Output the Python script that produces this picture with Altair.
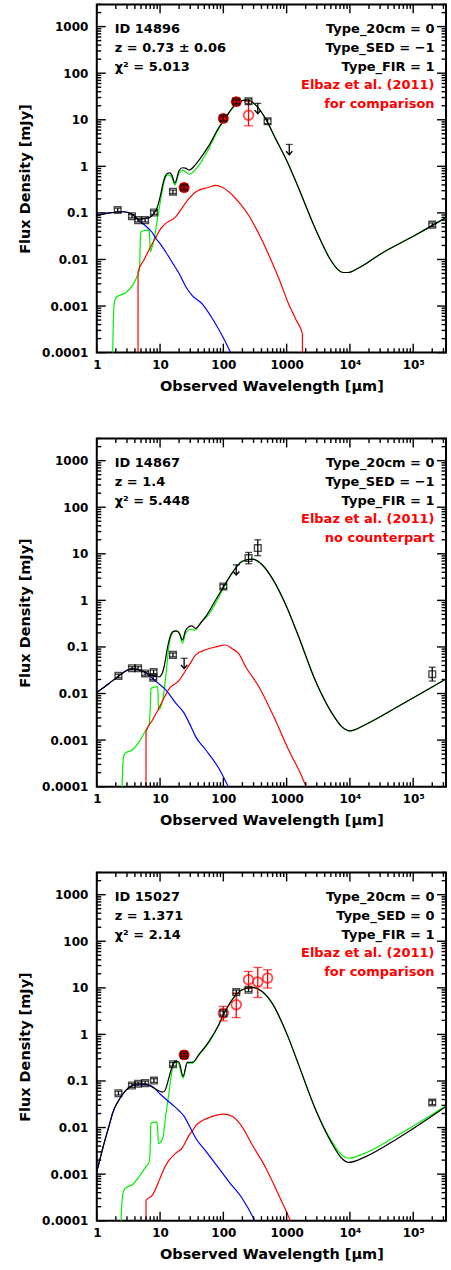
import altair as alt
import pandas as pd

# ---------------- axes ----------------
X_MAJOR = [1, 10, 100, 1000, 10000, 100000]
X_LABELS = ["1", "10", "100", "1000", "10⁴", "10⁵"]
Y_MAJOR = [0.0001, 0.001, 0.01, 0.1, 1, 10, 100, 1000]
Y_LABELS = ["0.0001", "0.001", "0.01", "0.1", "1", "10", "100", "1000"]
X_DOMAIN = [1, 3.3e5]
Y_DOMAIN = [1e-4, 3000]
X_MINOR = [m * 10 ** d for d in range(0, 6) for m in range(2, 10) if m * 10 ** d <= 3.3e5]
Y_MINOR = [m * 10.0 ** d for d in range(-4, 4) for m in range(2, 10) if m * 10.0 ** d <= 3000]

# ---------------- panel 1 : ID 14896 ----------------
p1_blue_wl = [1.0, 1.6, 2.6, 3.5, 4.7, 5.9, 7.4, 8.6, 10, 12.3, 15.7, 20, 25.5, 32, 46.6, 67, 96, 130, 160]
p1_blue_f = [0.089, 0.100, 0.106, 0.0955, 0.0676, 0.0525, 0.0389, 0.0282, 0.0219, 0.0145, 0.0085, 0.0050,
             0.0026, 0.0017, 0.0011, 0.00054, 0.00023, 0.0001, 0.00005]
p1_green_wl = [1.72, 1.74, 1.90, 2.07, 2.90, 3.69, 4.37, 4.73, 4.90, 5.01, 6.61, 6.84, 7.0, 7.41, 8.09, 9.12,
               10.3, 11.6, 13.1, 13.9, 15.5, 17.1, 20.0, 22.6, 28.8, 41.3, 59.3, 85.3, 103.5, 138, 176, 238,
               322, 462, 665, 1023, 1549, 2818, 4900, 6300, 7900, 9300, 13500, 31600, 107000, 330000]
p1_green_f = [1e-7, 1e-5, 1.23e-3, 1.58e-3, 1.95e-3, 2.82e-3, 4.47e-3, 6.3e-3, 0.0316, 0.0398, 0.0427, 0.0316,
              0.0145, 0.0178, 0.0282, 0.0759, 0.204, 0.468, 0.646, 0.649, 0.562, 0.398, 0.708, 0.832, 0.676,
              1.06, 2.43, 6.53, 9.77, 17.6, 24.5, 26.3, 20.9, 10.7, 3.98, 1.26, 0.339, 0.0468, 0.0100, 0.0063,
              0.00525, 0.00525, 0.00646, 0.0135, 0.0331, 0.0794]
p1_black_wl = [1.0, 1.58, 2.57, 3.55, 4.70, 5.62, 6.76, 7.94, 8.91, 10, 11.0, 12.0, 13.2, 14.1, 15.5, 17.1,
               20.0, 22.6, 25.1, 28.8, 35.5, 41.3, 59.3, 85.3, 103.5, 138, 176, 238, 322, 462, 665, 1023,
               1549, 2818, 4900, 6300, 7900, 9300, 13500, 31600, 107000, 330000]
p1_black_f = [0.089, 0.100, 0.106, 0.0955, 0.0708, 0.0759, 0.0794, 0.0955, 0.126, 0.219, 0.398, 0.603, 0.708,
              0.724, 0.631, 0.437, 0.813, 0.933, 0.912, 0.832, 1.05, 1.36, 2.82, 6.92, 10.0, 17.8, 24.6, 26.3,
              20.9, 10.7, 3.98, 1.26, 0.339, 0.0468, 0.0100, 0.0063, 0.00525, 0.00525, 0.00646, 0.0135,
              0.0331, 0.0794]
p1_red_wl = [4.48, 4.49, 5.62, 6.76, 8.61, 10, 12.4, 14.8, 17.8, 22.6, 28.8, 35.5, 41.4, 56.2, 75.7, 95.5,
             123, 178, 251, 363, 525, 759, 1072, 1413, 1778, 1791]
p1_red_f = [1e-8, 0.0054, 0.0100, 0.0166, 0.0302, 0.0437, 0.0603, 0.0692, 0.0832, 0.132, 0.204, 0.275, 0.309,
            0.347, 0.389, 0.355, 0.282, 0.166, 0.0891, 0.0355, 0.0123, 0.0038, 0.00112, 0.0005, 0.00025, 1e-8]
p1_sq_wl = [2.14, 3.6, 4.5, 5.8, 8.0, 16, 24, 100, 160, 250, 500, 2.0e5]
p1_sq_f = [0.115, 0.085, 0.070, 0.070, 0.102, 0.285, 0.35, 10.7, 24.5, 25, 9.3, 0.056]
p1_sq_lo = [0.105, 0.078, 0.064, 0.064, 0.093, 0.26, 0.32, 9.7, 22.3, 22.0, 8.2, 0.051]
p1_sq_hi = [0.126, 0.092, 0.076, 0.076, 0.111, 0.31, 0.38, 11.7, 26.7, 28.0, 10.4, 0.061]
p1_ul_wl = [350, 1100]
p1_ul_f = [22.5, 2.95]
p1_rc_wl = [24, 100, 160, 250]
p1_rc_f = [0.35, 10.7, 24.5, 12.5]
p1_rc_lo = [0.33, 10.1, 23.1, 7.4]
p1_rc_hi = [0.37, 11.3, 26.0, 24.5]
p1_rc_filled = [True, True, True, False]
p1_left = ["ID 14896", "z = 0.73 ± 0.06", "χ² = 5.013"]
p1_right = ["Type_20cm = 0", "Type_SED = −1", "Type_FIR = 1"]
p1_red_text = ["Elbaz et al. (2011)", "for comparison"]

# ---------------- panel 2 : ID 14867 ----------------
p2_blue_wl = [1.0, 1.58, 2.14, 2.82, 3.69, 4.70, 5.98, 8.59, 12.3, 17.7, 24.0, 29.5, 36.6, 52.5, 85.1, 120, 158]
p2_blue_f = [0.0105, 0.0166, 0.0229, 0.0302, 0.0339, 0.0316, 0.0275, 0.0182, 0.0120, 0.0062, 0.0038, 0.0022,
             0.00117, 0.00062, 0.000245, 0.0001, 0.00005]
p2_green_wl = [2.49, 2.51, 2.66, 2.82, 3.69, 4.70, 5.98, 6.76, 7.0, 7.16, 9.12, 9.29, 9.46, 11.0, 12.3, 13.9,
               15.7, 17.7, 20.0, 22.6, 25.5, 30.5, 35.5, 41.4, 59.4, 75.5, 103.5, 138, 199, 285, 410, 589,
               1023, 1549, 2818, 5188, 7413, 10000, 17380, 57540, 330000]
p2_green_f = [1e-7, 1e-4, 4.5e-4, 5.2e-4, 6.2e-4, 9.3e-4, 1.66e-3, 2.29e-3, 5.0e-3, 0.0129, 0.0141, 0.0100,
              0.00447, 0.00724, 0.0229, 0.112, 0.20, 0.224, 0.20, 0.120, 0.20, 0.24, 0.229, 0.302, 0.513, 0.871,
              2.0, 3.85, 6.84, 7.69, 5.82, 3.01, 0.681, 0.166, 0.0195, 0.0038, 0.00195, 0.00158, 0.00214,
              0.00525, 0.0204]
p2_black_wl = [1.0, 1.58, 2.14, 2.82, 3.69, 4.70, 5.98, 7.08, 8.59, 9.68, 10.7, 11.6, 13.2, 14.8, 16.6, 18.6,
               20.4, 22.6, 25.1, 28.2, 31.6, 36.6, 44.7, 52.5, 75.5, 103.5, 138, 199, 285, 410, 589, 1023,
               1549, 2818, 5188, 7413, 10000, 17380, 57540, 330000]
p2_black_f = [0.0105, 0.0166, 0.0229, 0.0302, 0.0347, 0.0324, 0.0282, 0.0251, 0.0229, 0.0229, 0.0263, 0.038,
              0.102, 0.182, 0.219, 0.219, 0.19, 0.141, 0.219, 0.269, 0.282, 0.251, 0.339, 0.447, 1.02, 2.09,
              3.9, 6.9, 7.7, 5.82, 3.01, 0.681, 0.166, 0.0195, 0.0038, 0.00195, 0.00158, 0.00214, 0.00525,
              0.0204]
p2_red_wl = [5.98, 6.0, 7.6, 9.7, 13.9, 20.0, 25.5, 28.8, 36.6, 52.5, 75.5, 108.6, 138, 176, 224, 363, 589,
             1072, 2018, 2512]
p2_red_f = [1e-8, 0.00151, 0.00269, 0.0050, 0.0126, 0.0191, 0.0316, 0.0407, 0.0676, 0.0871, 0.100, 0.110,
            0.0912, 0.0708, 0.038, 0.0141, 0.0038, 0.00062, 0.0001, 0.00004]
p2_sq_wl = [2.2, 3.6, 4.5, 5.8, 7.8, 7.9, 16, 100, 250, 350, 2.0e5]
p2_sq_f = [0.0239, 0.0349, 0.0349, 0.027, 0.0219, 0.029, 0.0676, 1.99, 8.1, 13.3, 0.026]
p2_sq_lo = [0.0218, 0.0319, 0.0319, 0.0247, 0.020, 0.0265, 0.0615, 1.80, 6.1, 9.1, 0.0185]
p2_sq_hi = [0.026, 0.038, 0.038, 0.0295, 0.024, 0.0318, 0.074, 2.2, 10.7, 20.0, 0.0367]
p2_ul_wl = [24, 160]
p2_ul_f = [0.057, 5.8]
p2_rc_wl = []
p2_rc_f = []
p2_rc_lo = []
p2_rc_hi = []
p2_rc_filled = []
p2_left = ["ID 14867", "z = 1.4", "χ² = 5.448"]
p2_right = ["Type_20cm = 0", "Type_SED = −1", "Type_FIR = 1"]
p2_red_text = ["Elbaz et al. (2011)", "no counterpart"]

# ---------------- panel 3 : ID 15027 ----------------
p3_blue_wl = [1.0, 1.24, 1.58, 1.79, 2.14, 2.88, 3.69, 4.70, 5.98, 7.59, 10, 15.7, 20, 24.0, 30.5, 36.7, 52.5,
              85.1, 122, 199, 314, 398]
p3_blue_f = [0.00112, 0.00355, 0.0115, 0.0209, 0.0355, 0.063, 0.0794, 0.0851, 0.0832, 0.0759, 0.0525, 0.0309,
             0.0229, 0.0174, 0.00955, 0.0059, 0.00316, 0.00133, 0.00069, 0.0003, 0.0001, 0.00005]
p3_green_wl = [2.40, 2.42, 2.6, 2.82, 3.69, 4.70, 5.98, 6.76, 7.0, 7.16, 8.79, 9.12, 9.46, 11.0, 12.3, 13.9,
               14.8, 15.7, 17.2, 19.1, 20.0, 23.1, 26.9, 32.4, 41.3, 59.3, 85.1, 103.5, 138, 199, 285, 410,
               589, 1023, 1549, 2818, 5188, 7413, 9550, 17380, 57540, 330000]
p3_green_f = [1e-7, 1e-4, 4.0e-4, 4.95e-4, 6.0e-4, 8.9e-4, 1.45e-3, 1.86e-3, 3.98e-3, 0.0126, 0.0132, 0.0100,
              0.00457, 0.00589, 0.0186, 0.0589, 0.115, 0.186, 0.251, 0.251, 0.219, 0.115, 0.240, 0.240, 0.363,
              0.676, 1.61, 2.86, 5.53, 9.08, 10.2, 8.32, 4.68, 0.977, 0.222, 0.026, 0.0050, 0.00257, 0.00219,
              0.00282, 0.0069, 0.0295]
p3_black_wl = [1.0, 1.24, 1.58, 1.79, 2.14, 2.88, 3.69, 4.70, 5.98, 7.24, 9.12, 11.0, 12.0, 13.5, 14.8, 16.2,
               17.7, 20.0, 23.1, 26.9, 32.4, 41.3, 59.3, 85.1, 103.5, 138, 199, 285, 410, 589, 1023, 1549,
               2818, 5188, 7413, 9550, 17380, 57540, 330000]
p3_black_f = [0.00112, 0.00355, 0.0115, 0.0209, 0.0355, 0.063, 0.0813, 0.0871, 0.0871, 0.0759, 0.0631, 0.0575,
              0.0631, 0.105, 0.166, 0.240, 0.269, 0.251, 0.126, 0.251, 0.251, 0.372, 0.708, 1.64, 2.88, 5.6,
              9.1, 10.2, 8.32, 4.68, 0.977, 0.222, 0.0257, 0.00457, 0.00219, 0.00178, 0.00234, 0.00589, 0.0282]
p3_red_wl = [5.98, 6.0, 7.59, 10, 11.7, 13.9, 17.8, 22.6, 28.8, 32.4, 36.6, 46.8, 67, 102, 138, 199, 285, 462,
             750, 1148, 1413]
p3_red_f = [1e-8, 0.000275, 0.000355, 0.00081, 0.00135, 0.0020, 0.00282, 0.00372, 0.0069, 0.0085, 0.011,
            0.0141, 0.0174, 0.0195, 0.0174, 0.0102, 0.00427, 0.00141, 0.000355, 0.0001, 0.00005]
p3_sq_wl = [2.2, 3.6, 4.5, 5.8, 8.0, 16, 24, 100, 160, 250, 2.0e5]
p3_sq_f = [0.0546, 0.080, 0.087, 0.090, 0.102, 0.229, 0.364, 2.86, 8.1, 9.1, 0.0344]
p3_sq_lo = [0.050, 0.073, 0.079, 0.082, 0.093, 0.209, 0.34, 2.6, 7.4, 8.3, 0.031]
p3_sq_hi = [0.060, 0.088, 0.095, 0.099, 0.112, 0.25, 0.39, 3.15, 8.9, 10.0, 0.038]
p3_ul_wl = []
p3_ul_f = []
p3_rc_wl = [24, 100, 160, 250, 350, 500]
p3_rc_f = [0.364, 2.86, 4.33, 14.9, 13.3, 16.2]
p3_rc_lo = [0.345, 1.96, 2.3, 9.9, 6.2, 9.9]
p3_rc_hi = [0.385, 3.98, 7.7, 22.5, 27.4, 24.4]
p3_rc_filled = [True, False, False, False, False, False]
p3_left = ["ID 15027", "z = 1.371", "χ² = 2.14"]
p3_right = ["Type_20cm = 0", "Type_SED = 0", "Type_FIR = 1"]
p3_red_text = ["Elbaz et al. (2011)", "for comparison"]

# ---------------- styling ----------------
W, H = 350, 349
FONT = "DejaVu Sans"
MAJ, MIN = 9, 4.5

x_label_expr = "{}[indexof({}, datum.value)]".format(X_LABELS, X_MAJOR)
y_label_expr = "{}[indexof({}, datum.value)]".format(Y_LABELS, Y_MAJOR)
x_scale = alt.Scale(type="log", domain=X_DOMAIN, nice=False)
y_scale = alt.Scale(type="log", domain=Y_DOMAIN, nice=False)
x_axis = alt.Axis(title="Observed Wavelength [μm]", values=X_MAJOR, labelExpr=x_label_expr, ticks=False,
                  domain=False, grid=False, labelFlush=False, labelOverlap=False, labelPadding=7,
                  titlePadding=9)
y_axis = alt.Axis(title="Flux Density [mJy]", values=Y_MAJOR, labelExpr=y_label_expr, ticks=False,
                  domain=False, grid=False, labelFlush=False, labelOverlap=False, labelPadding=9,
                  titlePadding=9)


def X(f):
    return alt.X(f"{f}:Q", scale=x_scale, axis=x_axis)


def Y(f):
    return alt.Y(f"{f}:Q", scale=y_scale, axis=y_axis)


def curve(wl, f, color):
    df = pd.DataFrame({"wl": wl, "f": f})
    return alt.Chart(df).mark_line(color=color, strokeWidth=1.2, clip=True, interpolate="monotone").encode(
        x=X("wl"), y=Y("f"))


def errbars(df, color, cap):
    base = alt.Chart(df)
    return [
        base.mark_rule(color=color, strokeWidth=1.3).encode(x=X("wl"), y=Y("lo"), y2="hi"),
        base.mark_tick(orient="horizontal", color=color, size=cap, thickness=1.3).encode(x=X("wl"), y=Y("lo")),
        base.mark_tick(orient="horizontal", color=color, size=cap, thickness=1.3).encode(x=X("wl"), y=Y("hi")),
    ]


def ticks():
    xs_major = pd.DataFrame({"v": X_MAJOR})
    xs_minor = pd.DataFrame({"v": X_MINOR})
    ys_major = pd.DataFrame({"v": Y_MAJOR})
    ys_minor = pd.DataFrame({"v": Y_MINOR})
    out = []
    for df, L in ((xs_major, MAJ), (xs_minor, MIN)):
        out.append(alt.Chart(df).mark_rule(color="black", strokeWidth=1.4).encode(
            x=X("v"), y=alt.value(H), y2=alt.value(H - L)))
        out.append(alt.Chart(df).mark_rule(color="black", strokeWidth=1.4).encode(
            x=X("v"), y=alt.value(0), y2=alt.value(L)))
    for df, L in ((ys_major, MAJ), (ys_minor, MIN)):
        out.append(alt.Chart(df).mark_rule(color="black", strokeWidth=1.4).encode(
            y=Y("v"), x=alt.value(0), x2=alt.value(L)))
        out.append(alt.Chart(df).mark_rule(color="black", strokeWidth=1.4).encode(
            y=Y("v"), x=alt.value(W), x2=alt.value(W - L)))
    return out


def texts(left, right, red):
    out = []
    for i, t in enumerate(left):
        out.append(alt.Chart(pd.DataFrame({"t": [t]})).mark_text(
            align="left", baseline="alphabetic", font=FONT, fontSize=13, fontWeight="bold", color="black").encode(
            x=alt.value(18), y=alt.value(28.5 + 18.9 * i), text="t:N"))
    for i, t in enumerate(right + red):
        col = "black" if i < len(right) else "#ff0000"
        out.append(alt.Chart(pd.DataFrame({"t": [t]})).mark_text(
            align="right", baseline="alphabetic", font=FONT, fontSize=13, fontWeight="bold", color=col).encode(
            x=alt.value(338.5), y=alt.value(28.5 + 18.9 * i), text="t:N"))
    return out


def panel(d):
    layers = [
        curve(d["green_wl"], d["green_f"], "#00f000"),
        curve(d["red_wl"], d["red_f"], "#ff0000"),
        curve(d["blue_wl"], d["blue_f"], "#0000ff"),
        curve(d["black_wl"], d["black_f"], "#000000"),
    ]
    if d["rc_wl"]:
        rc = pd.DataFrame({"wl": d["rc_wl"], "f": d["rc_f"], "lo": d["rc_lo"], "hi": d["rc_hi"],
                           "filled": d["rc_filled"]})
        open_rc = rc[~rc["filled"]]
        fill_rc = rc[rc["filled"]]
        if len(open_rc):
            layers += errbars(open_rc, "#ff0000", 9)
            layers.append(alt.Chart(open_rc).mark_point(shape="circle", filled=False, color="#ff0000", size=95,
                                                        strokeWidth=1.8).encode(x=X("wl"), y=Y("f")))
        if len(fill_rc):
            layers.append(alt.Chart(fill_rc).mark_point(shape="circle", filled=True, color="#ff0000", size=120,
                                                        opacity=1).encode(x=X("wl"), y=Y("f")))
    sq = pd.DataFrame({"wl": d["sq_wl"], "f": d["sq_f"], "lo": d["sq_lo"], "hi": d["sq_hi"]})
    layers += errbars(sq, "black", 7)
    layers.append(alt.Chart(sq).mark_point(shape="square", filled=False, color="black", size=45,
                                           strokeWidth=1.4).encode(x=X("wl"), y=Y("f")))
    if d["ul_wl"]:
        ul = pd.DataFrame({"wl": d["ul_wl"], "f": d["ul_f"]})
        ul["bot"] = ul["f"] * 10 ** -0.22
        layers.append(alt.Chart(ul).mark_tick(orient="horizontal", color="black", size=7, thickness=1.3).encode(
            x=X("wl"), y=Y("f")))
        layers.append(alt.Chart(ul).mark_rule(color="black", strokeWidth=1.3).encode(
            x=X("wl"), y=Y("f"), y2="bot"))
        layers.append(alt.Chart(ul).mark_point(shape="M-1,-1.1L0,0L1,-1.1", filled=False, color="black", size=40,
                                               strokeWidth=1.4, opacity=1).encode(x=X("wl"), y=Y("bot")))
    layers += ticks()
    layers += texts(d["left"], d["right"], d["red_text"])
    return alt.layer(*layers).properties(width=W, height=H)


def collect(prefix):
    g = globals()
    keys = ["blue_wl", "blue_f", "green_wl", "green_f", "black_wl", "black_f", "red_wl", "red_f",
            "sq_wl", "sq_f", "sq_lo", "sq_hi", "ul_wl", "ul_f", "rc_wl", "rc_f", "rc_lo", "rc_hi",
            "rc_filled", "left", "right", "red_text"]
    return {k: g[f"{prefix}_{k}"] for k in keys}


chart = alt.vconcat(panel(collect("p1")), panel(collect("p2")), panel(collect("p3")), spacing=42).properties(
    padding={"left": 16, "top": 1, "right": 3, "bottom": 0}
).configure_view(stroke="black", strokeWidth=2).configure_axis(
    labelFont=FONT, labelFontSize=12, labelFontWeight="bold", labelColor="black",
    titleFont=FONT, titleFontSize=14.5, titleFontWeight="bold", titleColor="black")

chart.save("out.html", embed_options={"renderer": "svg", "actions": False})
